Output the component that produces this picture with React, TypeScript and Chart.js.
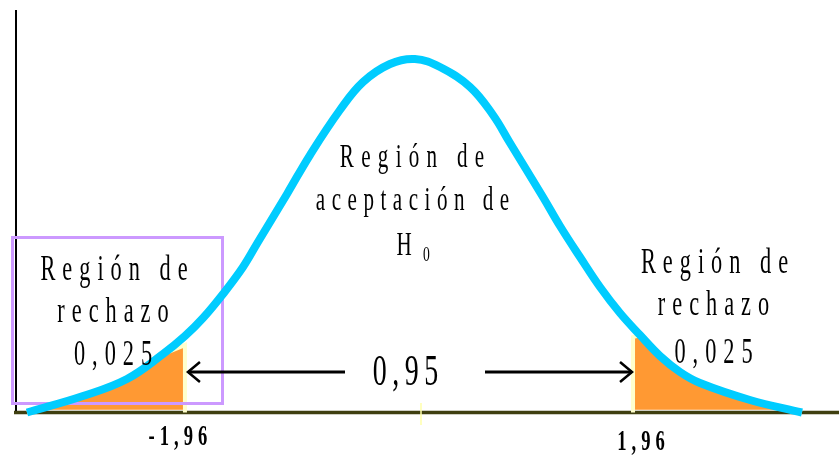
import React, { useEffect, useRef } from "react";
import { Chart, registerables } from "chart.js";

Chart.register(...registerables);

// Curve (z value, density)
const zValues = [-3.342, -2.852, -2.467, -2.152, -1.96, -1.802, -1.627, -1.452, -1.321, -1.067, -0.866, -0.604, -0.402, -0.166, 0.052, 0.271, 0.534, 0.735, 0.884, 1.172, 1.321, 1.496, 1.671, 1.846, 2.021, 2.196, 2.371, 2.546, 2.983, 3.438];
const density = [0, 0.0186, 0.0378, 0.0659, 0.0862, 0.1065, 0.1336, 0.164, 0.1922, 0.2463, 0.2902, 0.3409, 0.3725, 0.3928, 0.3984, 0.3894, 0.3669, 0.3353, 0.3037, 0.2429, 0.2102, 0.1752, 0.1414, 0.1121, 0.0873, 0.0637, 0.0456, 0.0332, 0.0141, 0];

const criticalValues = [-1.96, 1.96];
const criticalLabels = ["-1,96", "1,96"];
const tailEdgeHeights = [0.076, 0.085];

const leftText = ["Región de", "rechazo", "0,025"];
const rightText = ["Región de", "rechazo", "0,025"];
const centerText = ["Región de", "aceptación de"];
const hypothesis = ["H", "0"];
const acceptProb = "0,95";

const FONT = '"Liberation Serif", "Times New Roman", serif';

function drawSpaced(ctx: CanvasRenderingContext2D, text: string, cx: number, y: number, font: string, sx: number, sp: number) {
  ctx.font = font;
  const chars = [...text];
  const ws = chars.map((c) => ctx.measureText(c).width * sx);
  const total = ws.reduce((a, b) => a + b, 0) + sp * (chars.length - 1);
  let x = cx - total / 2;
  chars.forEach((c, i) => {
    ctx.save();
    ctx.translate(x, y);
    ctx.scale(sx, 1);
    ctx.fillText(c, 0, 0);
    ctx.restore();
    x += ws[i] + sp;
  });
}

const decorPlugin = {
  id: "decor",
  beforeDatasetsDraw(chart: any) {
    const ctx = chart.ctx as CanvasRenderingContext2D;
    const y0 = chart.scales.y.getPixelForValue(0);
    ctx.save();
    ctx.strokeStyle = "#000000";
    ctx.lineWidth = 2;
    ctx.beginPath();
    ctx.moveTo(16, 10);
    ctx.lineTo(16, y0);
    ctx.stroke();
    ctx.strokeStyle = "#3f3f10";
    ctx.lineWidth = 3.5;
    ctx.beginPath();
    ctx.moveTo(14, y0);
    ctx.lineTo(839, y0);
    ctx.stroke();
    ctx.strokeStyle = "#ffffaa";
    ctx.lineWidth = 1.5;
    ctx.beginPath();
    ctx.moveTo(421, 403);
    ctx.lineTo(421, 425);
    ctx.stroke();
    ctx.restore();
  },
  afterDatasetDraw(chart: any, args: any) {
    if (args.index !== 1) return;
    const ctx = chart.ctx as CanvasRenderingContext2D;
    ctx.save();
    ctx.strokeStyle = "#cc99ff";
    ctx.lineWidth = 3;
    ctx.strokeRect(12.5, 237.5, 210, 166);
    ctx.restore();
  },
  afterDatasetsDraw(chart: any) {
    const ctx = chart.ctx as CanvasRenderingContext2D;
    const xs = chart.scales.x;
    const lc = xs.getPixelForValue(criticalValues[0]);
    const rc = xs.getPixelForValue(criticalValues[1]);
    ctx.save();
    ctx.fillStyle = "#000000";
    ctx.textAlign = "left";
    ctx.textBaseline = "alphabetic";
    const sx = 0.62;
    const f36 = `36px ${FONT}`;
    drawSpaced(ctx, leftText[0], 114, 280, f36, sx, 7);
    drawSpaced(ctx, leftText[1], 113, 322, f36, sx, 7);
    drawSpaced(ctx, leftText[2], 113, 365, f36, sx, 7);
    drawSpaced(ctx, rightText[0], 714.5, 273, f36, sx, 7);
    drawSpaced(ctx, rightText[1], 713.5, 315, f36, sx, 7);
    drawSpaced(ctx, rightText[2], 713.5, 363, f36, sx, 7);
    const f34 = `34px ${FONT}`;
    drawSpaced(ctx, centerText[0], 412, 167, f34, sx, 7.3);
    drawSpaced(ctx, centerText[1], 412.5, 210, f34, sx, 6.5);
    drawSpaced(ctx, hypothesis[0], 404, 255, f34, sx, 0);
    drawSpaced(ctx, hypothesis[1], 426.5, 261, `22px ${FONT}`, sx, 0);
    drawSpaced(ctx, acceptProb, 405.5, 385, `45px ${FONT}`, sx, 5.5);
    const fb = `bold 30px ${FONT}`;
    drawSpaced(ctx, criticalLabels[0], lc - 7, 445, fb, sx, 5);
    drawSpaced(ctx, criticalLabels[1], rc + 8, 450, fb, sx, 5);
    ctx.strokeStyle = "#000000";
    ctx.lineWidth = 3;
    ctx.beginPath();
    ctx.moveTo(345, 372);
    ctx.lineTo(lc + 3, 372);
    ctx.moveTo(485, 372);
    ctx.lineTo(rc - 1, 372);
    ctx.stroke();
    ctx.lineWidth = 2.5;
    ctx.beginPath();
    ctx.moveTo(lc + 15, 362);
    ctx.lineTo(lc + 3, 372);
    ctx.lineTo(lc + 15, 382);
    ctx.moveTo(rc - 13, 362);
    ctx.lineTo(rc - 1, 372);
    ctx.lineTo(rc - 13, 382);
    ctx.stroke();
    ctx.restore();
  },
};

export default function App() {
  const ref = useRef<HTMLCanvasElement>(null);
  useEffect(() => {
    if (!ref.current) return;
    const curve = zValues.map((z, i) => ({ x: z, y: density[i] }));
    const leftTail = [
      ...curve.filter((p) => p.x < criticalValues[0]),
      { x: criticalValues[0], y: tailEdgeHeights[0] },
      { x: criticalValues[0], y: 0 },
    ];
    const rightTail = [
      { x: criticalValues[1], y: 0 },
      { x: criticalValues[1], y: tailEdgeHeights[1] },
      ...curve.filter((p) => p.x > criticalValues[1]),
    ];
    const chart = new Chart(ref.current, {
      type: "line",
      data: {
        datasets: [
          {
            data: curve,
            borderColor: "#00ccff",
            borderWidth: 8,
            pointRadius: 0,
            tension: 0.4,
            fill: false,
          },
          {
            data: leftTail,
            borderColor: "#ffffcc",
            borderWidth: 4,
            backgroundColor: "#ff9933",
            pointRadius: 0,
            tension: 0,
            fill: { value: 0.003 },
          },
          {
            data: rightTail,
            borderColor: "#ffffcc",
            borderWidth: 4,
            backgroundColor: "#ff9933",
            pointRadius: 0,
            tension: 0,
            fill: { value: 0.003 },
          },
        ],
      },
      options: {
        responsive: false,
        animation: false,
        layout: { padding: 0 },
        plugins: { legend: { display: false }, tooltip: { enabled: false } },
        scales: {
          x: { type: "linear", min: -3.578, max: 3.762, display: false },
          y: { type: "linear", min: -0.05015, max: 0.4649, display: false },
        },
      },
      plugins: [decorPlugin],
    } as any);
    return () => chart.destroy();
  }, []);
  return (
    <div style={{ position: "absolute", left: 0, top: 0, width: 839, height: 457, background: "#ffffff" }}>
      <canvas ref={ref} width={839} height={457} style={{ display: "block" }} />
    </div>
  );
}
